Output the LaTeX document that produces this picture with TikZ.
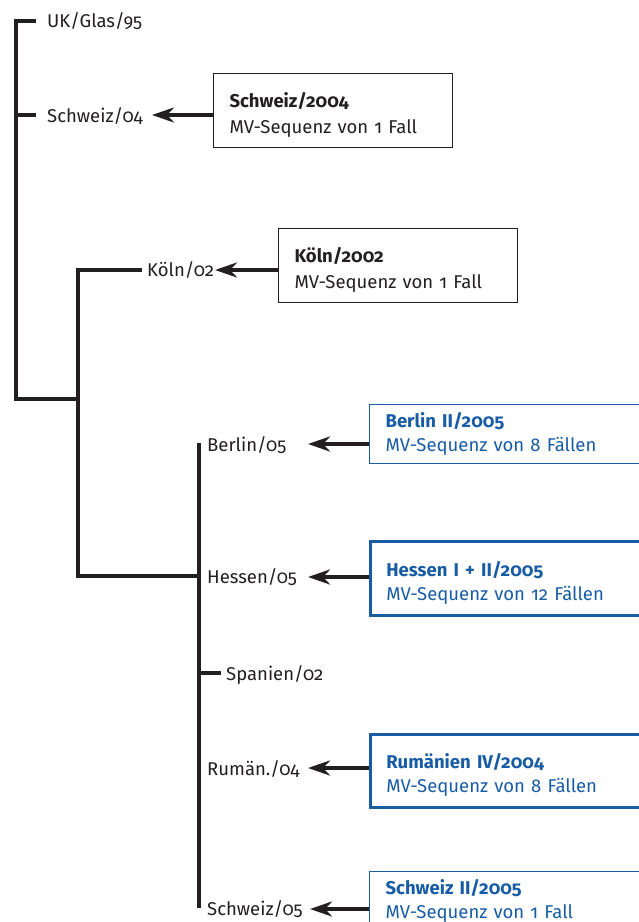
\documentclass[tikz,border=0pt]{standalone}
\usepackage{fontspec}
\setmainfont{Fira Sans}[Numbers=OldStyle]
\usetikzlibrary{arrows.meta}
\definecolor{ink}{RGB}{35,31,32}
\definecolor{blu}{RGB}{24,92,166}
\newcommand{\toppad}[1]{\rule{0pt}{#1}}
\begin{document}
\begin{tikzpicture}[x=1pt,y=-1pt,
  tree/.style={draw=ink,line width=3.2pt,line join=miter},
  lbl/.style={anchor=base west,inner sep=0pt,text=ink,font=\fontsize{18.5}{22}\selectfont},
  ptr/.style={draw=ink,line width=4.5pt,-{Stealth[length=22pt,width=15pt,inset=7pt]}},
  kbox/.style={draw=ink,line width=1.1pt,anchor=north west,align=left,inner xsep=16pt,inner ysep=0pt,text=ink,font=\fontsize{18.5}{26}\selectfont},
  bbox/.style={kbox,draw=blu,text=blu,font=\fontsize{18.5}{24}\selectfont},
]
\clip (0,0) rectangle (639,922);
\fill[white] (0,0) rectangle (639,922);

% tree coordinates
\coordinate (r0) at (16,21);
\coordinate (r1) at (16,399);
\coordinate (ukend) at (36,21);
\coordinate (swA) at (16,115);
\coordinate (swAend) at (36,115);
\coordinate (k0) at (78,270);
\coordinate (kend) at (142,270);
\coordinate (k1) at (78,399);
\coordinate (k2) at (78,576);
\coordinate (h0) at (199,576);
\coordinate (c0) at (199,443);
\coordinate (c1) at (199,908);
\coordinate (sp0) at (199,673);
\coordinate (spend) at (221,673);

\draw[tree] (ukend) -- (r0) -- (r1) -- (k1);
\draw[tree] (swA) -- (swAend);
\draw[tree] (kend) -- (k0) -- (k2) -- (h0);
\draw[tree] (c0) -- (c1);
\draw[tree] (sp0) -- (spend);

% labels
\node[lbl] (uk) at (47,27) {UK/Glas/95};
\node[lbl] (sw04) at (47,122) {Schweiz/04};
\node[lbl] (koe) at (147,276) {Köln/02};
\node[lbl] (ber) at (207,451) {Berlin/05};
\node[lbl] (hes) at (207,583) {Hessen/05};
\node[lbl] (spa) at (226,680) {Spanien/02};
\node[lbl] (rum) at (207,775) {Rumän./04};
\node[lbl] (sw05) at (207,915) {Schweiz/05};

% boxes
\node[kbox,minimum width=239pt,minimum height=74pt,text width=207pt] (b1) at (213,73)
  {\toppad{23pt}\textbf{Schweiz/2004}\\MV-Sequenz von 1 Fall};
\node[kbox,minimum width=239pt,minimum height=74pt,text width=207pt] (b2) at (278,228)
  {\toppad{23pt}\textbf{Köln/2002}\\MV-Sequenz von 1 Fall};
\node[bbox,line width=1.2pt,minimum width=290pt,minimum height=59pt,text width=258pt] (b3) at (369,404)
  {\textbf{Berlin II/2005}\\MV-Sequenz von 8 Fällen};
\node[bbox,line width=2.6pt,minimum width=290pt,minimum height=74pt,text width=258pt] (b4) at (369,540)
  {\toppad{25pt}\textbf{Hessen I + II/2005}\\MV-Sequenz von 12 Fällen};
\node[bbox,line width=2.6pt,minimum width=290pt,minimum height=73pt,text width=258pt] (b5) at (369,733)
  {\toppad{23pt}\textbf{Rumänien IV/2004}\\MV-Sequenz von 8 Fällen};
\node[bbox,line width=1.2pt,minimum width=290pt,minimum height=58pt,text width=258pt] (b6) at (369,871)
  {\textbf{Schweiz II/2005}\\MV-Sequenz von 1 Fall};

% arrow tips
\coordinate (a1) at (152,115);
\coordinate (a2) at (215,270);
\coordinate (a3) at (308,444);
\coordinate (a4) at (308,577);
\coordinate (a5) at (308,768);
\coordinate (a6) at (310,909);
\draw[ptr] (b1.west |- a1) -- (a1);
\draw[ptr] (b2.west |- a2) -- (a2);
\draw[ptr] (b3.west |- a3) -- (a3);
\draw[ptr] (b4.west |- a4) -- (a4);
\draw[ptr] (b5.west |- a5) -- (a5);
\draw[ptr] (b6.west |- a6) -- (a6);
\end{tikzpicture}
\end{document}
